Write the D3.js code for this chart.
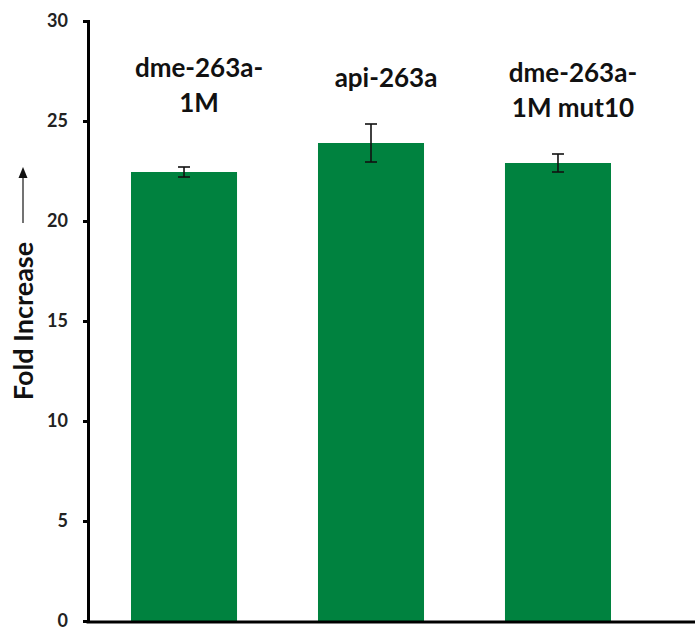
<!DOCTYPE html>
<html><head><meta charset="utf-8">
<script src="https://cdn.jsdelivr.net/npm/d3@7"></script>
<style>body{margin:0;background:#fff}svg{display:block}</style>
</head><body>
<svg id="c" width="695" height="630"></svg>
<script>
const categories = ["dme-263a-1M", "api-263a", "dme-263a-1M mut10"];
const labelLines = [["dme-263a-", "1M"], ["api-263a"], ["dme-263a-", "1M mut10"]];
const values = [22.45, 23.9, 22.9];
const errors = [0.25, 0.95, 0.45];
const yTicks = [0, 5, 10, 15, 20, 25, 30];
const yTitle = "Fold Increase";

const svg = d3.select("#c");
const y = d3.scaleLinear().domain([0, 30]).range([621, 21]);
const x = d3.scaleBand().domain(categories).range([88, 654]).paddingInner(0.433).paddingOuter(0.23);
const green = "#00823F";
const font = "Lato, 'Open Sans', sans-serif";

// bars
svg.selectAll("rect.bar").data(categories).join("rect")
  .attr("x", d => x(d)).attr("width", x.bandwidth())
  .attr("y", (d,i) => y(values[i])).attr("height", (d,i) => y(0) - y(values[i]))
  .attr("fill", green);

// error bars
const eb = svg.append("g").attr("stroke", "#111").attr("stroke-width", 1.6);
categories.forEach((c, i) => {
  const cx = x(c) + x.bandwidth()/2;
  const hi = y(values[i] + errors[i]), lo = y(values[i] - errors[i]);
  eb.append("line").attr("x1", cx).attr("x2", cx).attr("y1", hi).attr("y2", lo);
  eb.append("line").attr("x1", cx-6).attr("x2", cx+6).attr("y1", hi).attr("y2", hi);
  eb.append("line").attr("x1", cx-6).attr("x2", cx+6).attr("y1", lo).attr("y2", lo);
});

// y axis
const yAxis = d3.axisLeft(y).tickValues(yTicks).tickSize(5).tickPadding(15);
const gy = svg.append("g").attr("transform", "translate(88,0)").call(yAxis);
gy.select(".domain").attr("stroke", "#000").attr("stroke-width", 3);
gy.selectAll(".tick line").attr("stroke", "#000").attr("stroke-width", 3);
gy.selectAll(".tick text").attr("font-family", font).attr("font-weight", "bold")
  .attr("font-size", 18).attr("fill", "#222");

// x axis
const xAxis = d3.axisBottom(x).tickSize(0).tickFormat("");
const gx = svg.append("g").attr("transform", "translate(0,622)").call(xAxis);
gx.select(".domain").attr("d", "M86.5,0H695").attr("stroke", "#000").attr("stroke-width", 3);

// category labels above bars
const labelY = [[77, 112], [87], [82, 117]];
categories.forEach((c, i) => {
  const cx = x(c) + x.bandwidth()/2 + 15;
  labelLines[i].forEach((t, j) => {
    svg.append("text").attr("x", cx).attr("y", labelY[i][j])
      .attr("text-anchor", "middle").attr("font-family", font).attr("font-weight", "bold")
      .attr("font-size", 26).attr("fill", "#111").text(t);
  });
});

// y title with arrow
svg.append("text").attr("transform", "translate(33,321) rotate(-90)")
  .attr("text-anchor", "middle").attr("font-family", font).attr("font-weight", "bold")
  .attr("font-size", 27).attr("fill", "#111").text(yTitle);
svg.append("line").attr("x1", 23).attr("x2", 23).attr("y1", 223).attr("y2", 176)
  .attr("stroke", "#444").attr("stroke-width", 1.5);
svg.append("path").attr("d", "M23,167 L18.5,178 L27.5,178 Z").attr("fill", "#111");
</script>
</body></html>
